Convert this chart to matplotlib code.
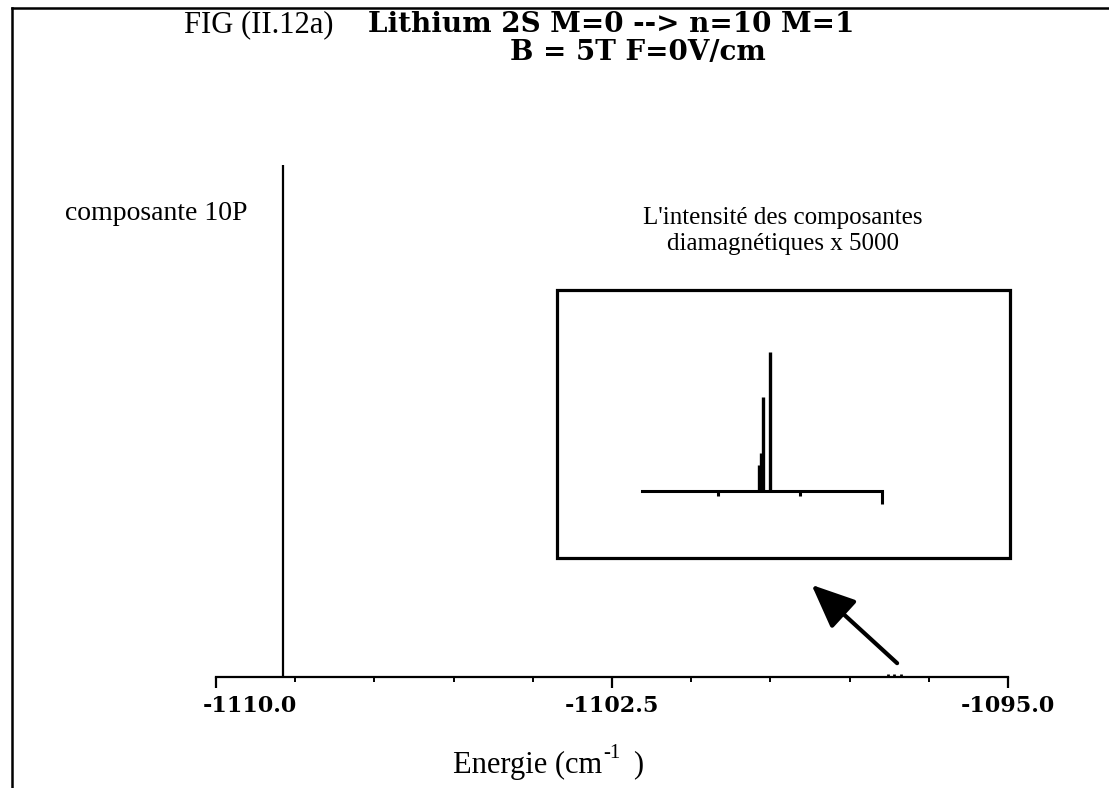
import matplotlib
matplotlib.use("Agg")
import matplotlib.pyplot as plt
import matplotlib.transforms as mtransforms
from matplotlib.lines import Line2D
from matplotlib.patches import Rectangle
from matplotlib.ticker import FixedLocator, FuncFormatter, NullFormatter

# ---------------- data ----------------
main_energy = [-1108.73]                 # 10P component (cm^-1)
main_intensity = [1.0]
dia_main_energy = [-1097.27, -1097.15, -1097.02]   # faint diamagnetic bumps
dia_main_intensity = [0.006, 0.006, 0.006]
inset_energy = [-1097.152, -1097.143, -1097.135, -1097.11]
inset_intensity_raw = [0.98e-5, 1.46e-5, 3.65e-5, 5.41e-5]
inset_factor = 5000
x_major_ticks = [-1110.0, -1102.5, -1095.0]
x_minor_ticks = [-1108.5, -1107.0, -1105.5, -1104.0, -1101.0, -1099.5, -1098.0, -1096.5]
inset_minor_ticks = [-1097.3, -1097.0]
inset_end_tick = [-1096.7]
inset_xlim = [-1097.58, -1096.7]

title_left = "FIG (II.12a)"
title_right = "Lithium 2S M=0 --> n=10 M=1"
title_line2 = "B = 5T F=0V/cm"
label_10p = "composante 10P"
inset_caption = "L'intensité des composantes\ndiamagnétiques x 5000"
xlabel_main = "Energie (cm"
xlabel_sup = "-1"
xlabel_end = ")"

# ---------------- layout helpers ----------------
W, H = 1109, 788
plt.rcParams["axes.unicode_minus"] = False

fig = plt.figure(figsize=(W / 100, H / 100), dpi=100)
fig.patch.set_facecolor("white")

def fx(px):
    return px / W

def fy(py):
    return 1 - py / H

SERIF = "Liberation Serif"
BOLD = "DejaVu Serif"

# outer frame (left and top)
fig.add_artist(Line2D([fx(12), fx(12)], [0, fy(8)], transform=fig.transFigure,
                      color="black", lw=1.8))
fig.add_artist(Line2D([fx(12), 1.0], [fy(8), fy(8)], transform=fig.transFigure,
                      color="black", lw=1.8))

# ---------------- main axes ----------------
ax = fig.add_axes([fx(216), fy(677), (1008 - 216) / W, 512 / H])
ax.set_xlim(-1110, -1095)
ax.set_ylim(0, 1)
for s in ("left", "right", "top"):
    ax.spines[s].set_visible(False)
ax.spines["bottom"].set_linewidth(1.6)
ax.set_yticks([])
ax.patch.set_alpha(0)

ax.vlines(main_energy, 0, main_intensity, color="black", lw=1.6)
ax.vlines(dia_main_energy, 0, dia_main_intensity, color="black", lw=2.0)

ax.xaxis.set_major_locator(FixedLocator(x_major_ticks))
ax.xaxis.set_minor_locator(FixedLocator(x_minor_ticks))
ax.xaxis.set_major_formatter(FuncFormatter(lambda v, p: "%.1f" % v))
ax.xaxis.set_minor_formatter(NullFormatter())
ax.tick_params(axis="x", which="major", direction="out", length=8, width=1.6,
               pad=5, labelsize=16)
ax.tick_params(axis="x", which="minor", direction="out", length=3.5, width=1.4)
for lab in ax.get_xticklabels():
    lab.set_fontfamily(BOLD)
    lab.set_fontweight("heavy")

first = ax.xaxis.get_major_ticks()[0].label1
first.set_horizontalalignment("left")
first.set_transform(first.get_transform() +
                    mtransforms.ScaledTranslation(-13 / 100, 0, fig.dpi_scale_trans))

# arrow pointing to the inset
ax.annotate("", xy=(-1098.72, 0.18), xytext=(-1097.10, 0.027),
            arrowprops=dict(arrowstyle="-|>,head_length=1.5,head_width=0.65",
                            color="black", lw=3, mutation_scale=18,
                            shrinkA=0, shrinkB=0))

# ---------------- inset ----------------
box = Rectangle((fx(557), fy(558)), (1010 - 557) / W, (558 - 290) / H,
                transform=fig.transFigure, fill=False, edgecolor="black", lw=2.3)
fig.add_artist(box)

axi = fig.add_axes([fx(642), fy(490.5), (882 - 642) / W, 200 / H])
axi.set_xlim(*inset_xlim)
axi.set_ylim(0, 200 / 512)
for s in ("left", "right", "top"):
    axi.spines[s].set_visible(False)
axi.spines["bottom"].set_linewidth(2.2)
axi.set_yticks([])
axi.patch.set_alpha(0)
inset_values = [v * inset_factor for v in inset_intensity_raw]
axi.vlines(inset_energy, 0, inset_values, color="black", lw=2.4)
axi.xaxis.set_major_locator(FixedLocator(inset_end_tick))
axi.xaxis.set_minor_locator(FixedLocator(inset_minor_ticks))
axi.xaxis.set_major_formatter(NullFormatter())
axi.xaxis.set_minor_formatter(NullFormatter())
axi.tick_params(axis="x", which="major", direction="out", length=9, width=2.2)
axi.tick_params(axis="x", which="minor", direction="out", length=3.5, width=2.2)

# ---------------- texts ----------------
fig.text(fx(184), fy(25), title_left, fontfamily=SERIF, fontsize=22, va="center")
fig.text(fx(368), fy(25), title_right, fontfamily=BOLD, fontweight="bold",
         fontsize=20, va="center")
fig.text(fx(638), fy(53), title_line2, fontfamily=BOLD, fontweight="bold",
         fontsize=20, va="center", ha="center")
fig.text(fx(65), fy(213), label_10p, fontfamily=SERIF, fontsize=20, va="center")
fig.text(fx(783), fy(231), inset_caption, fontfamily=SERIF, fontsize=18,
         va="center", ha="center", linespacing=1.2)

# x axis label (with raised "-1")
fig.text(fx(453), fy(765), xlabel_main, fontfamily=SERIF, fontsize=22, va="center")
fig.text(fx(603), fy(753), xlabel_sup, fontfamily=SERIF, fontsize=15, va="center")
fig.text(fx(633), fy(765), xlabel_end, fontfamily=SERIF, fontsize=22, va="center")

fig.savefig("out.png", dpi=100, facecolor="white")
